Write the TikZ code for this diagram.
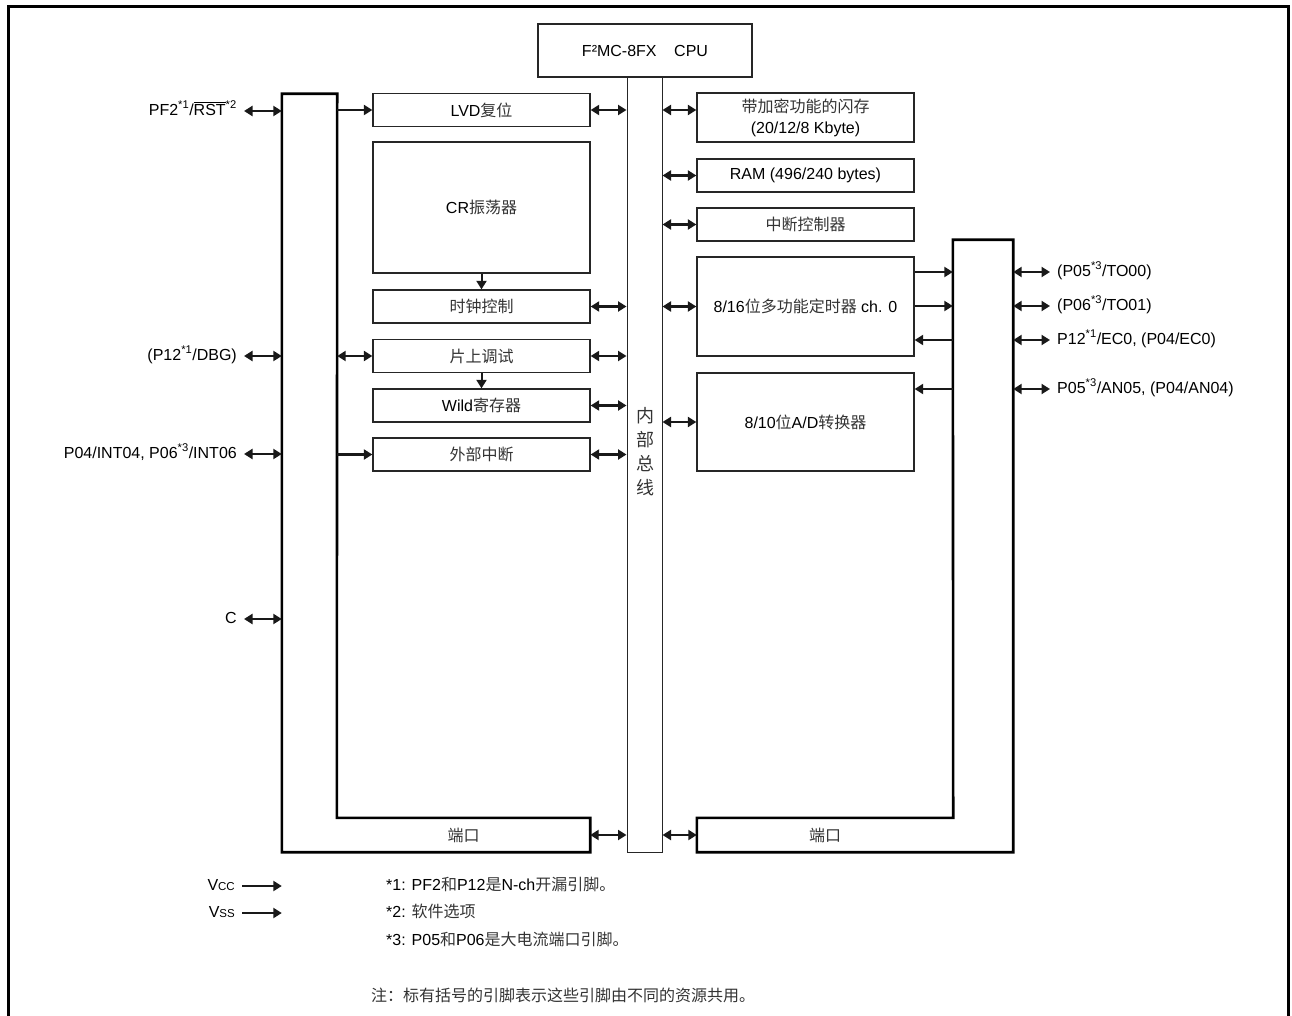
\documentclass[tikz,border=0pt]{standalone}
\usepackage{fontspec}
\setmainfont{Liberation Sans}
\newfontfamily\cjk{Noto Sans CJK SC}
\usetikzlibrary{arrows.meta}
\newcommand\zh[1]{{\cjk\color{black!80}#1}}
\begin{document}
\begin{tikzpicture}[x=1pt,y=-1pt,
  font=\fontsize{16}{19}\selectfont,
  blk/.style={draw=black!85, line width=1.3pt, inner sep=0pt, minimum width=217pt, align=center},
  portline/.style={draw=black, line width=2.6pt, line join=miter},
  hold/.style={inner sep=0pt},
  dbl/.style={draw=black!90, line width=2.6pt, {Triangle[length=8.5pt,width=10pt]}-{Triangle[length=8.5pt,width=10pt]}},
  sgl/.style={draw=black!90, line width=2.6pt, -{Triangle[length=8.5pt,width=10pt]}},
  pinl/.style={anchor=mid east, inner sep=0pt},
  pinr/.style={anchor=mid west, inner sep=0pt},
  note/.style={anchor=mid west, inner sep=0pt}]
\useasboundingbox (0,0) rectangle (1292,1016);
\clip (0,0) rectangle (1292,1016);
% outer frame
\draw[line width=3pt] (8,1030) -- (8,7) -- (1288,7) -- (1288,1030);

% CPU and internal bus
\node[blk, minimum width=214pt, minimum height=53pt] (cpu) at (645,50.5) {F²MC-8FX\hspace{1.1em}CPU};
\node[draw=black!85, line width=1pt, inner sep=0pt, minimum width=35pt, minimum height=775pt] (bus) at (644.5,464.5) {};
\node[font=\fontsize{18}{24}\selectfont\cjk, text=black!80, align=center, inner sep=0pt] (bustxt) at (645,452) {内\\部\\总\\线};

% left blocks
\node[blk, minimum height=33pt] (lvd) at (481.5,110) {LVD\zh{复位}};
\node[blk, minimum height=131pt] (cr) at (481.5,207.5) {CR\zh{振荡器}};
\node[blk, minimum height=33pt] (clk) at (481.5,306.5) {\zh{时钟控制}};
\node[blk, minimum height=33pt] (ocd) at (481.5,356) {\zh{片上调试}};
\node[blk, minimum height=33pt] (wild) at (481.5,405.5) {Wild\zh{寄存器}};
\node[blk, minimum height=33pt] (ext) at (481.5,454.5) {\zh{外部中断}};

% right blocks
\node[blk, minimum height=49pt, font=\fontsize{16}{21}\selectfont] (flash) at (805.5,117.5) {\zh{带加密功能的闪存}\\(20/12/8 Kbyte)};
\node[blk, minimum height=33pt] (ram) at (805.5,175.5) {RAM (496/240 bytes)};
\node[blk, minimum height=33pt] (intc) at (805.5,224.5) {\zh{中断控制器}};
\node[blk, minimum height=99pt] (tmr) at (805.5,306.5) {8/16\zh{位多功能定时器} ch. 0};
\node[blk, minimum height=98pt] (adc) at (805.5,422) {8/10\zh{位}A/D\zh{转换器}};

% left port
\node[hold, minimum width=55pt, minimum height=724pt] (lpc) at (309.5,456) {};
\node[hold, minimum width=253pt, minimum height=34pt] (lpb) at (463.5,835) {\zh{端口}};
\draw[portline] (lpc.north west) -- (lpc.north east) -- (lpb.north west) -- (lpb.north east)
  -- (lpb.south east) -- (lpc.west |- lpb.south) -- cycle;

% right port
\node[hold, minimum width=60pt, minimum height=578pt] (rpc) at (983,529) {};
\node[hold, minimum width=256pt, minimum height=34pt] (rpb) at (825,835) {\zh{端口}};
\draw[portline] (rpc.north west) -- (rpc.north east) -- (rpc.east |- rpb.south) -- (rpb.south west)
  -- (rpb.north west) -- (rpb.north east) -- cycle;

% bus connections
\draw[dbl] (lvd.east) -- (lvd.east -| bus.west);
\draw[dbl] (clk.east) -- (clk.east -| bus.west);
\draw[dbl] (ocd.east) -- (ocd.east -| bus.west);
\draw[dbl] (wild.east) -- (wild.east -| bus.west);
\draw[dbl] (ext.east) -- (ext.east -| bus.west);
\draw[dbl] (lpb.east) -- (lpb.east -| bus.west);
\draw[dbl] (bus.east |- lvd.east) -- (flash.west |- lvd.east);
\draw[dbl] (bus.east |- ram.west) -- (ram.west);
\draw[dbl] (bus.east |- intc.west) -- (intc.west);
\draw[dbl] (bus.east |- tmr.west) -- (tmr.west);
\draw[dbl] (bus.east |- adc.west) -- (adc.west);
\draw[dbl] (bus.east |- rpb.west) -- (rpb.west);

% left port to blocks
\draw[sgl] (lpc.east |- lvd.west) -- (lvd.west);
\draw[dbl] (lpc.east |- ocd.west) -- (ocd.west);
\draw[sgl] (lpc.east |- ext.west) -- (ext.west);
\draw[sgl, line width=2pt] (cr.south) -- (clk.north);
\draw[sgl, line width=2pt] (ocd.south) -- (wild.north);

% right pins
\coordinate (r1) at (1050,272);
\coordinate (r2) at (1050,306);
\coordinate (r3) at (1050,340);
\coordinate (r4) at (1050,389);
\draw[sgl] (tmr.east |- r1) -- (rpc.west |- r1);
\draw[sgl] (tmr.east |- r2) -- (rpc.west |- r2);
\draw[sgl] (rpc.west |- r3) -- (tmr.east |- r3);
\draw[sgl] (rpc.west |- r4) -- (adc.east |- r4);
\draw[dbl] (rpc.east |- r1) -- (r1);
\draw[dbl] (rpc.east |- r2) -- (r2);
\draw[dbl] (rpc.east |- r3) -- (r3);
\draw[dbl] (rpc.east |- r4) -- (r4);
\node[pinr] (l1) at ([xshift=7pt,yshift=-1.5pt]r1) {(P05\textsuperscript{*3}/TO00)};
\node[pinr] (l2) at ([xshift=7pt,yshift=-1.5pt]r2) {(P06\textsuperscript{*3}/TO01)};
\node[pinr] (l3) at ([xshift=7pt,yshift=-1.5pt]r3) {P12\textsuperscript{*1}/EC0, (P04/EC0)};
\node[pinr] (l4) at ([xshift=7pt,yshift=-1.5pt]r4) {P05\textsuperscript{*3}/AN05, (P04/AN04)};

% left pins
\coordinate (p1) at (244,111);
\coordinate (p2) at (244,356);
\coordinate (p3) at (244,454);
\coordinate (p4) at (244,619);
\draw[dbl] (p1) -- (p1 -| lpc.west);
\draw[dbl] (p2) -- (p2 -| lpc.west);
\draw[dbl] (p3) -- (p3 -| lpc.west);
\draw[dbl] (p4) -- (p4 -| lpc.west);
\node[pinl] (k1) at ([xshift=-7pt,yshift=-1.5pt]p1) {PF2\textsuperscript{*1}/$\overline{\mbox{RST}}$\textsuperscript{*2}};
\node[pinl] (k2) at ([xshift=-7pt,yshift=-1.5pt]p2) {(P12\textsuperscript{*1}/DBG)};
\node[pinl] (k3) at ([xshift=-7pt,yshift=-1.5pt]p3) {P04/INT04, P06\textsuperscript{*3}/INT06};
\node[pinl] (k4) at ([xshift=-7pt,yshift=-1.5pt]p4) {C};

% power pins
\coordinate (vcc) at (242,886);
\coordinate (vss) at (242,913);
\draw[sgl] (vcc) -- (vcc -| lpc.west);
\draw[sgl] (vss) -- (vss -| lpc.west);
\node[pinl] (kvcc) at ([xshift=-7pt,yshift=-1.5pt]vcc) {V{\fontsize{11.5}{13}\selectfont CC}};
\node[pinl] (kvss) at ([xshift=-7pt,yshift=-1.5pt]vss) {V{\fontsize{11.5}{13}\selectfont SS}};

% notes
\node[note] (n1) at (386,888) {*1: PF2\zh{和}P12\zh{是}N-ch\zh{开漏引脚。}};
\node[note] (n2) at (386,915) {*2: \zh{软件选项}};
\node[note] (n3) at (386,943) {*3: P05\zh{和}P06\zh{是大电流端口引脚。}};
\node[note] (n4) at (371,999) {\zh{注：标有括号的引脚表示这些引脚由不同的资源共用。}};
\end{tikzpicture}
\end{document}
